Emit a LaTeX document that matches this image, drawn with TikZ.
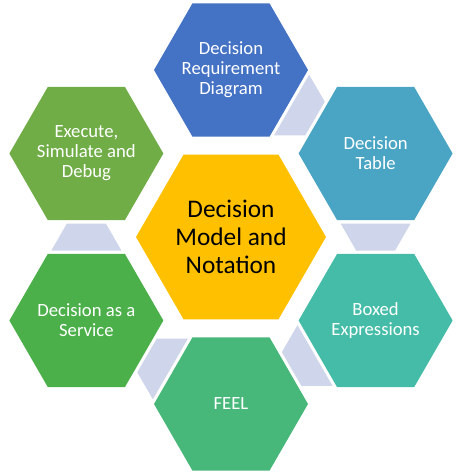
\documentclass[tikz,border=0pt]{standalone}
\usepackage{fontspec}
\setmainfont{Carlito}
\usepackage{tikz}
\usetikzlibrary{shapes.geometric}
\usetikzlibrary{calc}

\definecolor{drdblue}{HTML}{4472C4}
\definecolor{tableblue}{HTML}{4AA5C5}
\definecolor{boxedteal}{HTML}{45BCA8}
\definecolor{feelgreen}{HTML}{47B87A}
\definecolor{servicegreen}{HTML}{4BB04A}
\definecolor{executegreen}{HTML}{70AD47}
\definecolor{dmngold}{HTML}{FFC000}
\definecolor{linklav}{HTML}{CFD5EA}

\begin{document}
\begin{tikzpicture}[x=0.75pt,y=0.75pt,
	hexout/.style={regular polygon,regular polygon sides=6,minimum size=115.5pt,inner sep=-10pt,text=white,align=center,font=\fontsize{14}{15}\selectfont},
	hexmid/.style={regular polygon,regular polygon sides=6,minimum size=142.5pt,inner sep=-10pt,text=black,align=center,font=\fontsize{19}{21}\selectfont},
	link/.style={fill=linklav}]
	\useasboundingbox (-231,-238) rectangle (227,237);

	\node (dmn) [hexmid,fill=dmngold] at (0,0) {Decision\\Model and\\Notation};
	\node (drd) [hexout,fill=drdblue] at (90:167) {Decision\\Requirement\\Diagram};
	\node (table) [hexout,fill=tableblue] at (30:167) {Decision\\Table};
	\node (boxed) [hexout,fill=boxedteal] at (-30:167) {Boxed\\Expressions};
	\node (feel) [hexout,fill=feelgreen] at (-90:167) {FEEL};
	\node (service) [hexout,fill=servicegreen] at (210:167) {Decision as a\\Service};
	\node (execute) [hexout,fill=executegreen] at (150:167) {Execute,\\Simulate and\\Debug};

	\fill[link,shift={($(drd)!0.5!(table)$)},rotate=-30] (-13.5,35) -- (-13.5,-35) -- (13.5,-19.5) -- (13.5,19.5) -- cycle;
	\fill[link,shift={($(table)!0.5!(boxed)$)},rotate=-90] (-13.5,35) -- (-13.5,-35) -- (13.5,-19.5) -- (13.5,19.5) -- cycle;
	\fill[link,shift={($(boxed)!0.5!(feel)$)},rotate=210] (-13.5,35) -- (-13.5,-35) -- (13.5,-19.5) -- (13.5,19.5) -- cycle;
	\fill[link,shift={($(feel)!0.5!(service)$)},rotate=150] (-13.5,35) -- (-13.5,-35) -- (13.5,-19.5) -- (13.5,19.5) -- cycle;
	\fill[link,shift={($(service)!0.5!(execute)$)},rotate=90] (-13.5,35) -- (-13.5,-35) -- (13.5,-19.5) -- (13.5,19.5) -- cycle;
\end{tikzpicture}
\end{document}
